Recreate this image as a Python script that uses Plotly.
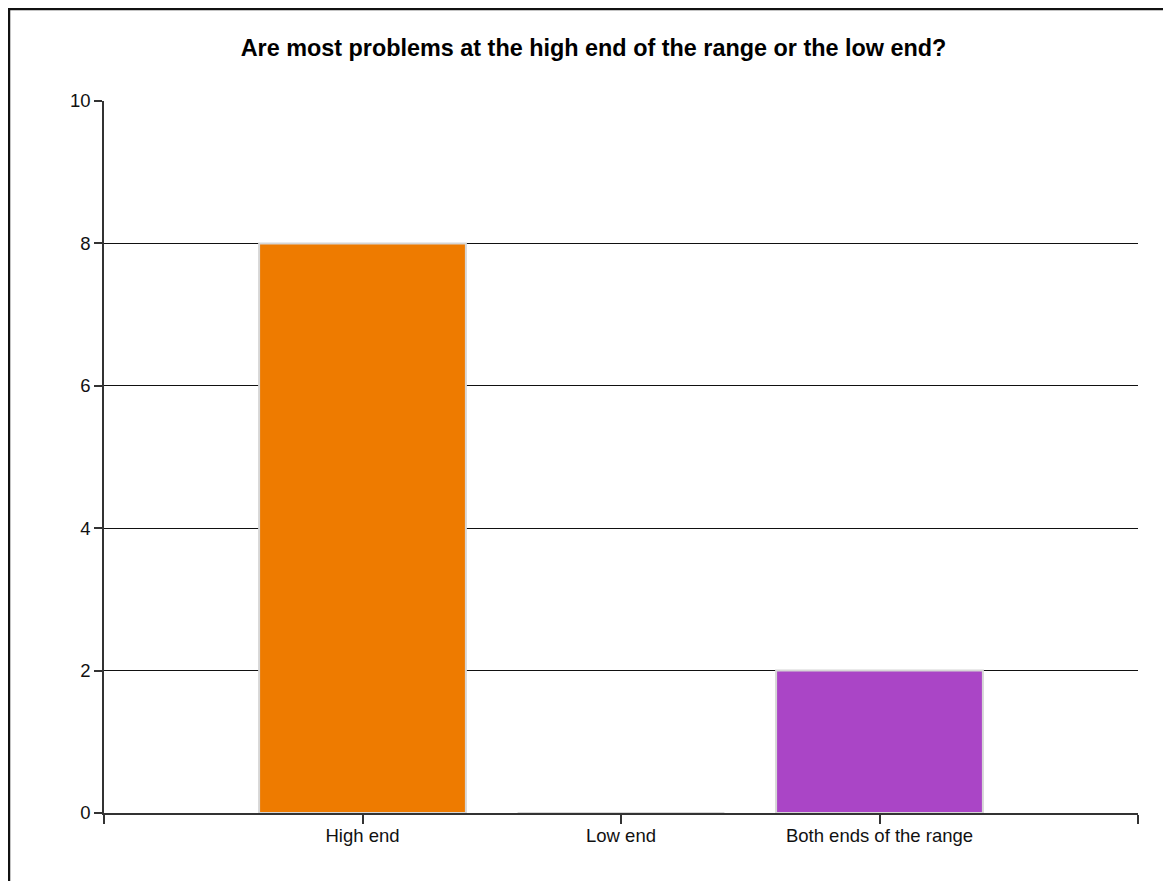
import plotly.graph_objects as go

categories = ["High end", "Low end", "Both ends of the range"]
values = [8, 0, 2]
bar_colors = ["#EE7B00", "#A0A0A0", "#AA45C6"]
y_ticks = [0, 2, 4, 6, 8, 10]
title_text = "Are most problems at the high end of the range or the low end?"

# page has an 8px body margin, so the figure is drawn 8px in from the corner
W, H = 1163, 873
L, R, T, B = 96, 33, 93, 68
pw, ph = W - L - R, H - T - B

x_pos = list(range(len(categories)))

fig = go.Figure()
fig.add_trace(go.Bar(
    x=x_pos, y=values, width=0.8,
    marker=dict(color=bar_colors, line=dict(color="#D6D6D6", width=2)),
    showlegend=False, hoverinfo="x+y",
))

font = "Liberation Sans, Arial, sans-serif"
fig.update_layout(
    width=W, height=H,
    margin=dict(l=L, r=R, t=T, b=B, pad=0),
    paper_bgcolor="white", plot_bgcolor="white",
    font=dict(family=font, size=18, color="#111"),
    title=dict(text="<b>" + title_text + "</b>", x=585.5 / W, xanchor="center",
               y=1 - 40 / H, yanchor="middle", yref="container",
               font=dict(family=font, size=23.4, color="#000")),
    bargap=0.2,
    xaxis=dict(range=[-1, len(categories)], tickmode="array",
               tickvals=[-1] + x_pos + [len(categories)],
               ticktext=[""] + categories + [""],
               showgrid=False, zeroline=False, showline=True,
               linecolor="#333", linewidth=1.5,
               ticks="outside", ticklen=9, tickwidth=1.5, tickcolor="#333",
               ticklabelstandoff=-4,
               tickfont=dict(size=18.5, color="#111")),
    yaxis=dict(range=[0, 10], tickmode="array", tickvals=y_ticks,
               showgrid=True, gridcolor="#111", gridwidth=1.2,
               zeroline=False, showline=True, linecolor="#333", linewidth=1.5,
               ticks="outside", ticklen=8, tickwidth=1.5, tickcolor="#333",
               tickfont=dict(size=18.5, color="#111")),
)

# outer frame of the image
fig.add_shape(type="rect", xref="paper", yref="paper",
              x0=(1 - L) / pw, x1=(W + 3 - L) / pw,
              y0=(H - B - (H + 3)) / ph, y1=(H - B - 1) / ph,
              line=dict(color="#111", width=2.5), fillcolor="rgba(0,0,0,0)",
              layer="above")

fig.write_html("out.html")
